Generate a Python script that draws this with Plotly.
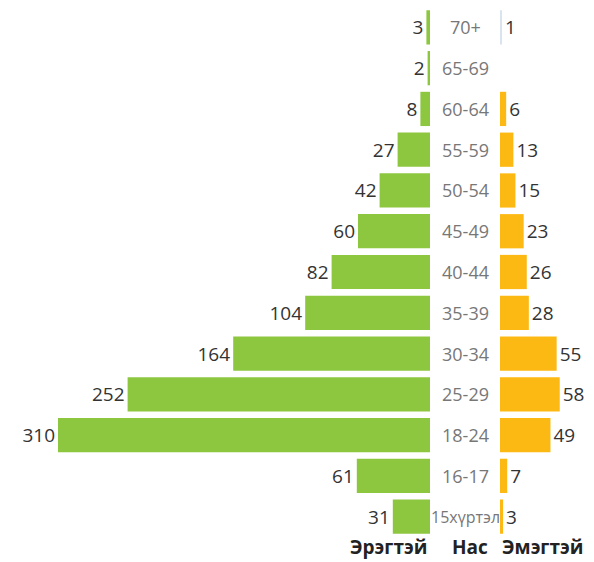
import plotly.graph_objects as go

ages = ["15хүртэл", "16-17", "18-24", "25-29", "30-34", "35-39", "40-44",
        "45-49", "50-54", "55-59", "60-64", "65-69", "70+"]
male = [31, 61, 310, 252, 164, 104, 82, 60, 42, 27, 8, 2, 3]
female = [3, 7, 49, 58, 55, 28, 26, 23, 15, 13, 6, None, 1]
female_text = [str(v) if v is not None else "" for v in female]

GREEN = "#8DC63F"
ORANGE = "#FDB913"
female_colors = [ORANGE] * 12 + ["#D9E4EE"]

W, H = 594, 562
fig = go.Figure()
fig.add_trace(go.Bar(
    y=ages, x=male, orientation="h", xaxis="x", yaxis="y",
    marker=dict(color=GREEN, line=dict(width=0)),
    text=[str(v) for v in male], textposition="outside",
    textfont=dict(size=19, color="#333333", family="Open Sans"),
    cliponaxis=False, hoverinfo="skip",
))
fig.add_trace(go.Bar(
    y=ages, x=female, orientation="h", xaxis="x2", yaxis="y",
    marker=dict(color=female_colors, line=dict(width=0)),
    text=female_text, textposition="outside",
    textfont=dict(size=19, color="#333333", family="Open Sans"),
    cliponaxis=False, hoverinfo="skip",
))

annotations = []
for a in ages:
    annotations.append(dict(
        x=465 / W, xref="paper", y=a, yref="y", text=a, showarrow=False,
        xanchor="center", yanchor="middle",
        font=dict(size=18 if a != "15хүртэл" else 16, color="#777777", family="Open Sans"),
    ))
for txt, xc in [("Эрэгтэй", 388), ("Нас", 470), ("Эмэгтэй", 542)]:
    annotations.append(dict(
        x=xc / W, xref="paper", y=0, yref="paper", yshift=-24, text="<b>" + txt + "</b>",
        showarrow=False, xanchor="center", yanchor="bottom", borderpad=0,
        font=dict(size=19, color="#222222", family="Open Sans"),
    ))

fig.update_layout(
    width=W, height=H,
    margin=dict(l=0, r=0, t=7, b=25),
    paper_bgcolor="white", plot_bgcolor="white",
    showlegend=False, bargap=0.16,
    xaxis=dict(domain=[0, 430 / W], range=[430 / 1.2, 0], visible=False, fixedrange=True),
    xaxis2=dict(domain=[500 / W, 1], range=[0, 94 / 1.03], visible=False, anchor="y", fixedrange=True),
    yaxis=dict(categoryorder="array", categoryarray=ages, visible=False,
               range=[-0.5, 12.5], fixedrange=True),
    annotations=annotations,
    font=dict(family="Open Sans"),
)
fig.write_html("out.html", config={"displayModeBar": False},
               post_script="document.body.style.margin='0';document.body.style.overflow='hidden';")
